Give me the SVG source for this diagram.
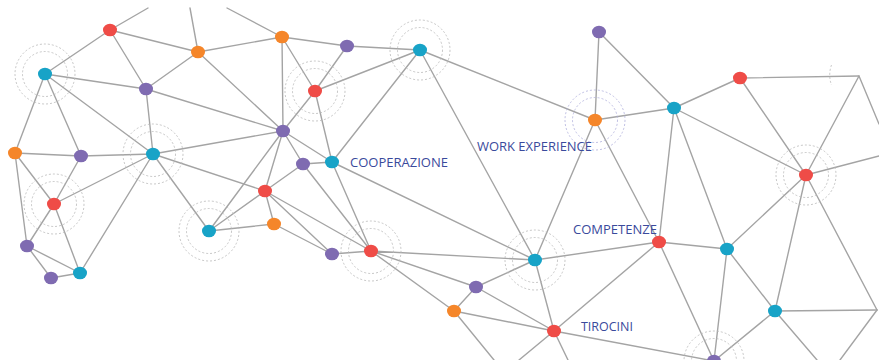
<svg xmlns="http://www.w3.org/2000/svg" width="879" height="360" viewBox="0 0 879 360">
<style>
.e{stroke:#a4a4a4;stroke-width:1.4;fill:none;stroke-linecap:round}
.r{fill:none;stroke:#b9b9b9;stroke-width:0.8;stroke-dasharray:2 2}
.rl{fill:none;stroke:#b0b0dc;stroke-width:0.8;stroke-dasharray:2 2}
.red{fill:#ef4c47}.ora{fill:#f5862a}.pur{fill:#7f6bb1}.cya{fill:#18a3c7}
.t{font-family:"Open Sans","Liberation Sans",sans-serif;font-size:12.5px;fill:#3a4a9c}
</style>
<rect width="879" height="360" fill="#ffffff"/>
<g id="connectors">
<path class="e" d="M110 30L148 8M110 30L198 52M110 30L45 74M110 30L146 89"/>
<path class="e" d="M198 52L190 8M198 52L282 37M198 52L146 89M198 52L283 131"/>
<path class="e" d="M282 37L227 8M282 37L347 46M282 37L315 91M282 37L283 131"/>
<path class="e" d="M347 46L420 50M347 46L315 91"/>
<path class="e" d="M420 50L315 91M420 50L332 162M420 50L595 120M420 50L535 260"/>
<path class="e" d="M45 74L146 89M45 74L15 153M45 74L81 156M45 74L153 154"/>
<path class="e" d="M146 89L153 154M146 89L283 131"/>
<path class="e" d="M315 91L283 131M315 91L332 162"/>
<path class="e" d="M283 131L153 154M283 131L303 164M283 131L332 162M283 131L265 191M283 131L209 231"/>
<path class="e" d="M15 153L81 156M15 153L54 204M15 153L27 246"/>
<path class="e" d="M81 156L54 204M81 156L153 154"/>
<path class="e" d="M153 154L265 191M153 154L209 231M153 154L54 204M153 154L80 273"/>
<path class="e" d="M303 164L332 162M303 164L265 191M303 164L371 251"/>
<path class="e" d="M332 162L371 251M332 162L535 260"/>
<path class="e" d="M265 191L209 231M265 191L274 224M265 191L332 254M265 191L371 251"/>
<path class="e" d="M54 204L27 246M54 204L80 273"/>
<path class="e" d="M209 231L274 224M274 224L332 254"/>
<path class="e" d="M27 246L51 278M27 246L80 273M80 273L51 278"/>
<path class="e" d="M332 254L371 251"/>
<path class="e" d="M371 251L535 260M371 251L476 287M371 251L454 311"/>
<path class="e" d="M535 260L476 287M535 260L554 331M535 260L595 120M535 260L659 242"/>
<path class="e" d="M476 287L454 311M476 287L554 331"/>
<path class="e" d="M454 311L554 331M454 311L494 360"/>
<path class="e" d="M554 331L659 242M554 331L714 361M554 331L519 360M554 331L568 360"/>
<path class="e" d="M599 32L595 120M599 32L674 108"/>
<path class="e" d="M595 120L674 108M595 120L659 242"/>
<path class="e" d="M674 108L740 78M674 108L806 175M674 108L659 242M674 108L727 249"/>
<path class="e" d="M740 78L859 76M740 78L806 175"/>
<path class="e" d="M859 76L806 175M859 76L879 124"/>
<path class="e" d="M806 175L727 249M806 175L775 311M806 175L877 310M806 175L879 156"/>
<path class="e" d="M659 242L727 249M659 242L714 361"/>
<path class="e" d="M727 249L775 311M727 249L714 361"/>
<path class="e" d="M775 311L877 310M775 311L714 361M775 311L817 360"/>
<path class="e" d="M877 310L840 360"/>
</g>
<g id="ring-arc"><path class="r" d="M831.5 65A29 29 0 0 0 831.5 85"/></g>
<g id="n1"><ellipse class="red" cx="110" cy="30" rx="7" ry="6.3"/></g>
<g id="n2"><ellipse class="ora" cx="198" cy="52" rx="7" ry="6.3"/></g>
<g id="n3"><ellipse class="ora" cx="282" cy="37" rx="7" ry="6.3"/></g>
<g id="n4"><ellipse class="pur" cx="347" cy="46" rx="7" ry="6.3"/></g>
<g id="n5"><circle class="r" cx="420" cy="50" r="30"/><circle class="r" cx="420" cy="50" r="22.5"/><ellipse class="cya" cx="420" cy="50" rx="7" ry="6.3"/></g>
<g id="n6"><circle class="r" cx="45" cy="74" r="30"/><circle class="r" cx="45" cy="74" r="22.5"/><ellipse class="cya" cx="45" cy="74" rx="7" ry="6.3"/></g>
<g id="n7"><ellipse class="pur" cx="146" cy="89" rx="7" ry="6.3"/></g>
<g id="n8"><circle class="r" cx="315" cy="91" r="30"/><circle class="r" cx="315" cy="91" r="22.5"/><ellipse class="red" cx="315" cy="91" rx="7" ry="6.3"/></g>
<g id="n9"><ellipse class="pur" cx="283" cy="131" rx="7" ry="6.3"/></g>
<g id="n10"><ellipse class="ora" cx="15" cy="153" rx="7" ry="6.3"/></g>
<g id="n11"><ellipse class="pur" cx="81" cy="156" rx="7" ry="6.3"/></g>
<g id="n12"><circle class="r" cx="153" cy="154" r="30"/><circle class="r" cx="153" cy="154" r="22.5"/><ellipse class="cya" cx="153" cy="154" rx="7" ry="6.3"/></g>
<g id="n13"><ellipse class="pur" cx="303" cy="164" rx="7" ry="6.3"/></g>
<g id="n14"><ellipse class="cya" cx="332" cy="162" rx="7" ry="6.3"/></g>
<g id="n15"><ellipse class="red" cx="265" cy="191" rx="7" ry="6.3"/></g>
<g id="n16"><circle class="r" cx="54" cy="204" r="30"/><circle class="r" cx="54" cy="204" r="22.5"/><ellipse class="red" cx="54" cy="204" rx="7" ry="6.3"/></g>
<g id="n17"><circle class="r" cx="209" cy="231" r="30"/><circle class="r" cx="209" cy="231" r="22.5"/><ellipse class="cya" cx="209" cy="231" rx="7" ry="6.3"/></g>
<g id="n18"><ellipse class="ora" cx="274" cy="224" rx="7" ry="6.3"/></g>
<g id="n19"><ellipse class="pur" cx="27" cy="246" rx="7" ry="6.3"/></g>
<g id="n20"><ellipse class="cya" cx="80" cy="273" rx="7" ry="6.3"/></g>
<g id="n21"><ellipse class="pur" cx="51" cy="278" rx="7" ry="6.3"/></g>
<g id="n22"><ellipse class="pur" cx="332" cy="254" rx="7" ry="6.3"/></g>
<g id="n23"><circle class="r" cx="371" cy="251" r="30"/><circle class="r" cx="371" cy="251" r="22.5"/><ellipse class="red" cx="371" cy="251" rx="7" ry="6.3"/></g>
<g id="n24"><circle class="r" cx="535" cy="260" r="30"/><circle class="r" cx="535" cy="260" r="22.5"/><ellipse class="cya" cx="535" cy="260" rx="7" ry="6.3"/></g>
<g id="n25"><ellipse class="pur" cx="476" cy="287" rx="7" ry="6.3"/></g>
<g id="n26"><ellipse class="ora" cx="454" cy="311" rx="7" ry="6.3"/></g>
<g id="n27"><ellipse class="red" cx="554" cy="331" rx="7" ry="6.3"/></g>
<g id="n28"><ellipse class="pur" cx="599" cy="32" rx="7" ry="6.3"/></g>
<g id="n29"><circle class="rl" cx="595" cy="120" r="30"/><circle class="rl" cx="595" cy="120" r="22.5"/><ellipse class="ora" cx="595" cy="120" rx="7" ry="6.3"/></g>
<g id="n30"><ellipse class="cya" cx="674" cy="108" rx="7" ry="6.3"/></g>
<g id="n31"><ellipse class="red" cx="740" cy="78" rx="7" ry="6.3"/></g>
<g id="n33"><circle class="r" cx="806" cy="175" r="30"/><circle class="r" cx="806" cy="175" r="22.5"/><ellipse class="red" cx="806" cy="175" rx="7" ry="6.3"/></g>
<g id="n34"><ellipse class="red" cx="659" cy="242" rx="7" ry="6.3"/></g>
<g id="n35"><ellipse class="cya" cx="727" cy="249" rx="7" ry="6.3"/></g>
<g id="n36"><ellipse class="cya" cx="775" cy="311" rx="7" ry="6.3"/></g>
<g id="n38"><circle class="r" cx="714" cy="361" r="30"/><circle class="r" cx="714" cy="361" r="22.5"/><ellipse class="pur" cx="714" cy="361" rx="7" ry="6.3"/></g>
<g id="labels">
<text class="t" x="350" y="167" textLength="98" lengthAdjust="spacingAndGlyphs">COOPERAZIONE</text>
<text class="t" x="477" y="151" textLength="115" lengthAdjust="spacingAndGlyphs">WORK EXPERIENCE</text>
<text class="t" x="573" y="234" textLength="84" lengthAdjust="spacingAndGlyphs">COMPETENZE</text>
<text class="t" x="581" y="331" textLength="52" lengthAdjust="spacingAndGlyphs">TIROCINI</text>
</g>
</svg>
